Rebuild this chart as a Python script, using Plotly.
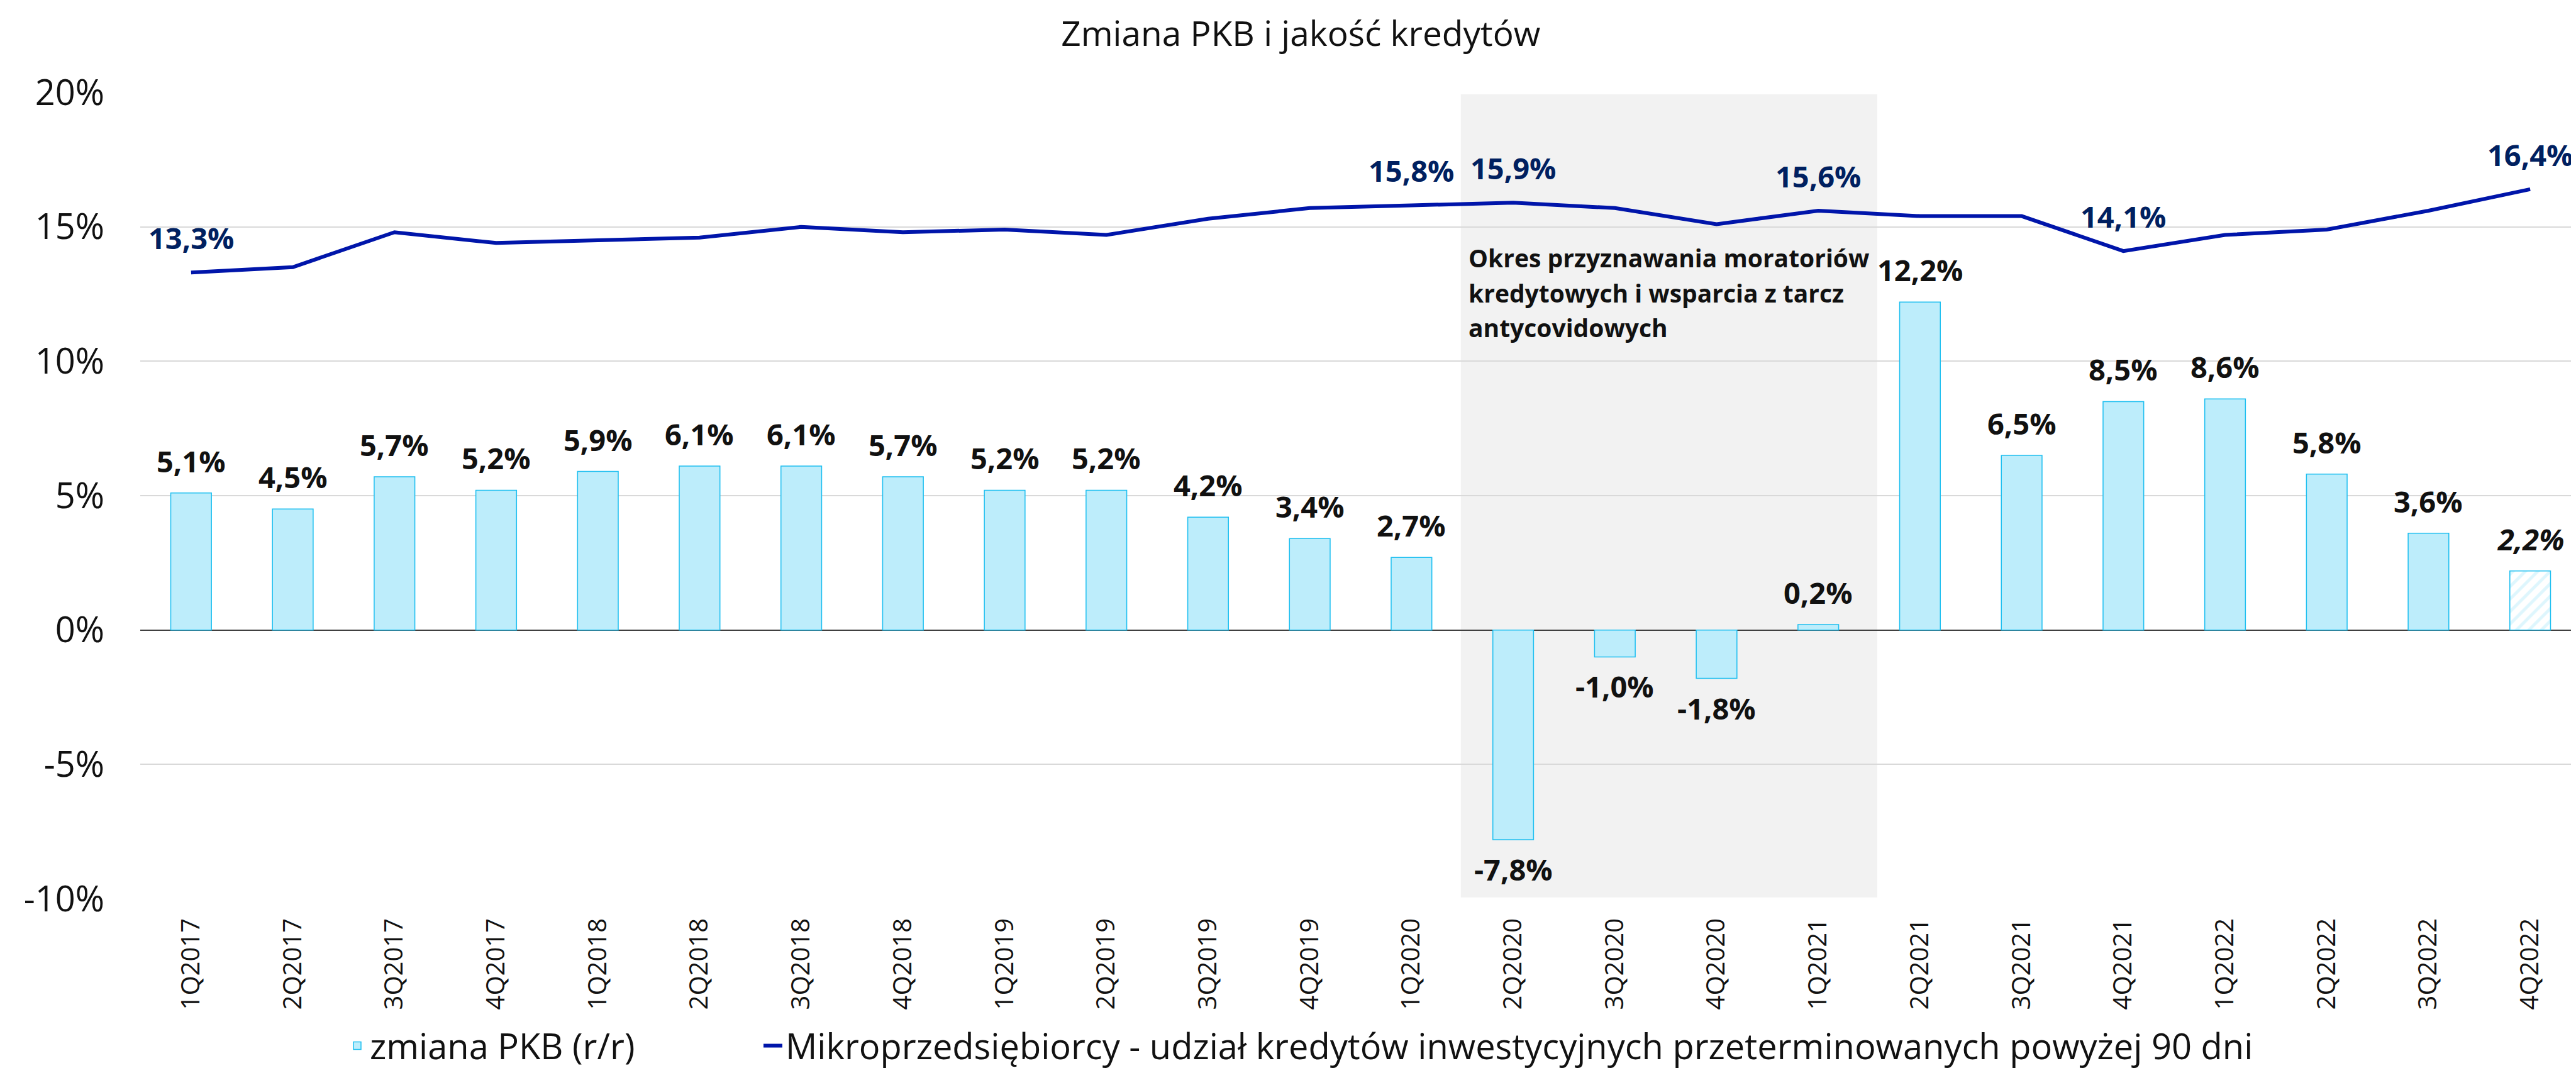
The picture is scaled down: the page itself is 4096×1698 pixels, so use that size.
import plotly.graph_objects as go

# ---------------- data ----------------
categories = ["1Q2017", "2Q2017", "3Q2017", "4Q2017",
              "1Q2018", "2Q2018", "3Q2018", "4Q2018",
              "1Q2019", "2Q2019", "3Q2019", "4Q2019",
              "1Q2020", "2Q2020", "3Q2020", "4Q2020",
              "1Q2021", "2Q2021", "3Q2021", "4Q2021",
              "1Q2022", "2Q2022", "3Q2022", "4Q2022"]

gdp_change = [5.1, 4.5, 5.7, 5.2, 5.9, 6.1, 6.1, 5.7, 5.2, 5.2, 4.2, 3.4,
              2.7, -7.8, -1.0, -1.8, 0.2, 12.2, 6.5, 8.5, 8.6, 5.8, 3.6, 2.2]

micro_overdue = [13.3, 13.5, 14.8, 14.4, 14.5, 14.6, 15.0, 14.8, 14.9, 14.7, 15.3, 15.7,
                 15.8, 15.9, 15.7, 15.1, 15.6, 15.4, 15.4, 14.1, 14.7, 14.9, 15.6, 16.4]

micro_labeled = ["1Q2017", "1Q2020", "2Q2020", "1Q2021", "4Q2021", "4Q2022"]
estimated_quarters = ["4Q2022"]

y_ticks = [-10, -5, 0, 5, 10, 15, 20]
y_tick_labels = [f"{t}%" for t in y_ticks]

moratorium_start = "2Q2020"
moratorium_end = "1Q2021"
note_lines = ["Okres przyznawania moratoriów",
              "kredytowych i wsparcia z tarcz",
              "antycovidowych"]

title_text = "Zmiana PKB i jakość kredytów"
name_bar = "zmiana PKB (r/r)"
name_line = "Mikroprzedsiębiorcy - udział kredytów inwestycyjnych przeterminowanych powyżej 90 dni"

# ---------------- styles ----------------
FONT = "Open Sans, Noto Sans, DejaVu Sans, sans-serif"
BAR_FILL = "#BDEDFB"
BAR_LINE = "#1EBFF0"
LINE_COLOR = "#0015AA"
LINE_LABEL = "#002060"
TXT = "#111111"

ML, MR, MT, MB = 215, 0, 139, 270
PW = 4096 - ML - MR


def pl(v):
    return f"{v:.1f}".replace(".", ",") + "%"


fig = go.Figure()

is_est = [c in estimated_quarters for c in categories]

fig.add_trace(go.Bar(
    x=categories, y=gdp_change, name=name_bar,
    width=0.4,
    marker=dict(
        color=BAR_FILL,
        line=dict(color=BAR_LINE, width=1.5),
        pattern=dict(
            shape=["/" if e else "" for e in is_est],
            fgcolor=BAR_FILL,
            bgcolor="white",
            size=14,
            solidity=0.35,
        ),
    ),
    legend="legend",
    hoverinfo="skip",
))

fig.add_trace(go.Scatter(
    x=categories, y=micro_overdue, name=name_line,
    mode="lines",
    line=dict(color=LINE_COLOR, width=6),
    legend="legend2",
    hoverinfo="skip",
))

# shaded moratorium period
i0 = categories.index(moratorium_start)
i1 = categories.index(moratorium_end)
fig.add_shape(type="rect", xref="x", yref="y",
              x0=i0 - 0.515, x1=i1 + 0.58, y0=-9.95, y1=19.93,
              fillcolor="#F2F2F2", line=dict(width=0), layer="below")

annotations = []
# bar labels
for c, v, e in zip(categories, gdp_change, is_est):
    txt = f"<b>{pl(v)}</b>"
    if e:
        txt = f"<i>{txt}</i>"
    annotations.append(dict(
        x=c, y=v, xref="x", yref="y", text=txt, showarrow=False,
        yanchor="middle", xanchor="center",
        yshift=51 if v >= 0 else -47,
        font=dict(family=FONT, size=47, color=TXT),
    ))
# line labels
for c, v in zip(categories, micro_overdue):
    if c in micro_labeled:
        annotations.append(dict(
            x=c, y=v, xref="x", yref="y", text=f"<b>{pl(v)}</b>", showarrow=False,
            yanchor="middle", xanchor="center", yshift=55,
            font=dict(family=FONT, size=47, color=LINE_LABEL),
        ))
# note in shaded area
for k, line in enumerate(note_lines):
    annotations.append(dict(
        x=i0 - 0.45, y=13.85 - 1.3 * k, xref="x", yref="y",
        text=f"<b>{line}</b>", showarrow=False,
        xanchor="left", yanchor="middle",
        font=dict(family=FONT, size=39, color=TXT),
    ))

legend_common = dict(orientation="h", xanchor="left", y=-0.1823, yanchor="middle",
                     font=dict(family=FONT, size=56, color=TXT),
                     itemwidth=30, bgcolor="rgba(0,0,0,0)")

fig.update_layout(
    width=4096, height=1698,
    margin=dict(l=ML, r=MR, t=MT, b=MB),
    paper_bgcolor="white", plot_bgcolor="white",
    font=dict(family=FONT, color=TXT),
    title=dict(text=title_text, x=0.503, xanchor="center", y=0.973, yanchor="middle",
               yref="container", font=dict(family=FONT, size=55, color=TXT)),
    bargap=0.6,
    showlegend=True,
    legend=dict(x=(540 - ML) / PW, **legend_common),
    legend2=dict(x=(1201 - ML) / PW, **legend_common),
    annotations=annotations,
)

fig.update_xaxes(
    type="category", categoryorder="array", categoryarray=categories,
    tickangle=-90, ticks="", showgrid=False,
    tickfont=dict(family=FONT, size=40, color=TXT),
    ticklabelstandoff=22,
    showline=False, zeroline=False,
)
fig.update_yaxes(
    range=[-10, 20], tickvals=y_ticks, ticktext=y_tick_labels,
    showgrid=True, gridcolor="#D9D9D9", gridwidth=2,
    zeroline=True, zerolinecolor="#404040", zerolinewidth=2,
    ticks="", ticklabelstandoff=56,
    tickfont=dict(family=FONT, size=56, color=TXT),
    showline=False,
)

fig.write_html("out.html")
